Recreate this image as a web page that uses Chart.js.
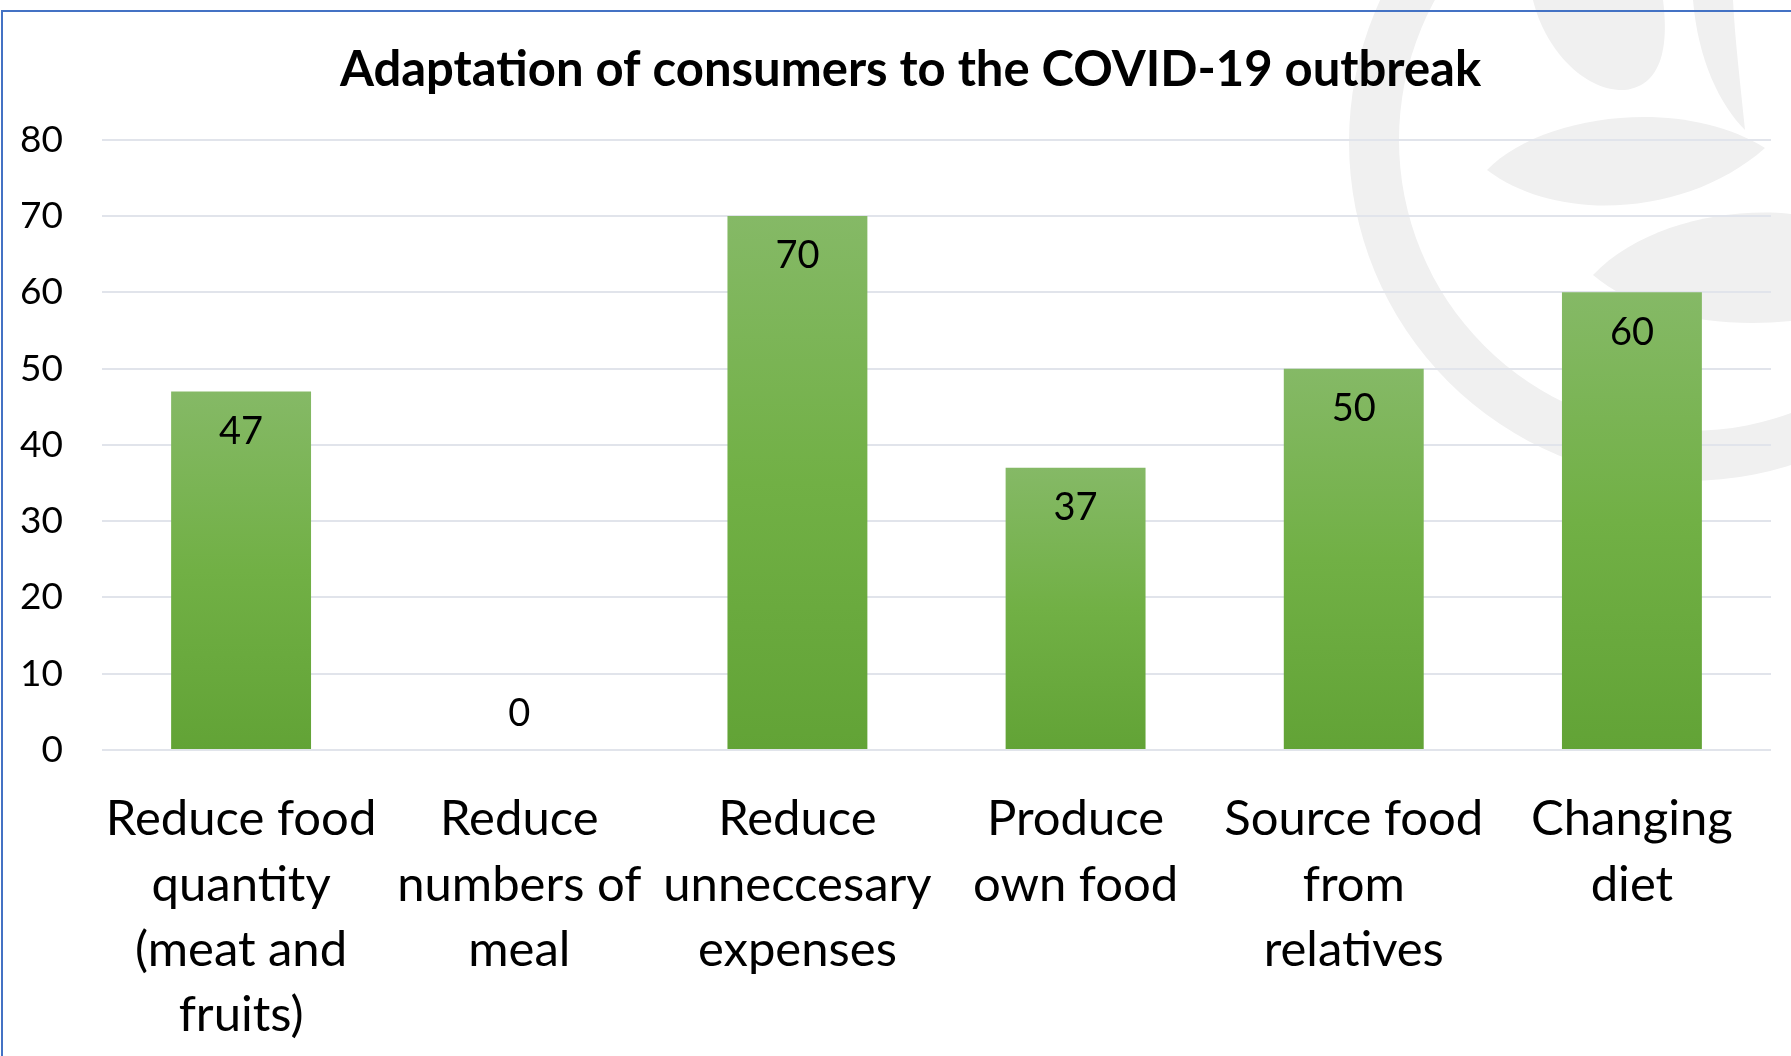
<!DOCTYPE html>
<html>
<head>
<meta charset="utf-8">
<title>Adaptation of consumers to the COVID-19 outbreak</title>
<script src="https://cdn.jsdelivr.net/npm/chart.js@4.4.1/dist/chart.umd.min.js"></script>
<style>
    html, body { margin: 0; padding: 0; background: #ffffff; }
    canvas { display: block; }
</style>
</head>
<body>
<canvas id="adaptChart" width="1791" height="1056"></canvas>
<script>
// Survey answers, one bar per adaptation
const categories = [
    ['Reduce food', 'quantity', '(meat and', 'fruits)'],
    ['Reduce', 'numbers of', 'meal'],
    ['Reduce', 'unneccesary', 'expenses'],
    ['Produce', 'own food'],
    ['Source food', 'from', 'relatives'],
    ['Changing', 'diet']
];
const shareValues = [47, 0, 70, 37, 50, 60];

const yMin = 0;
const yMax = 80;
const yStep = 10;

const FONT = 'Lato, "Open Sans", sans-serif';

// Faint logo in the top right corner, behind everything
const watermark = {
    id: 'watermark',
    beforeDraw(chart) {
        const c = chart.ctx;
        c.save();
        c.fillStyle = '#f0f0f0';

        // ring
        c.beginPath();
        c.arc(1688, 142, 339, 0, Math.PI * 2);
        c.arc(1690, 140, 291, 0, Math.PI * 2, true);
        c.fill();

        // upper leaf
        c.beginPath();
        c.moveTo(1487, 170);
        c.bezierCurveTo(1540, 115, 1680, 95, 1765, 148);
        c.bezierCurveTo(1690, 215, 1560, 225, 1487, 170);
        c.fill();

        // lower leaf
        c.beginPath();
        c.moveTo(1593, 275);
        c.bezierCurveTo(1640, 225, 1730, 205, 1800, 215);
        c.lineTo(1800, 320);
        c.bezierCurveTo(1720, 330, 1640, 315, 1593, 275);
        c.fill();

        // tip of a leaf cut by the top edge
        c.beginPath();
        c.moveTo(1533, 0);
        c.bezierCurveTo(1545, 50, 1585, 92, 1625, 90);
        c.bezierCurveTo(1665, 85, 1668, 40, 1663, 0);
        c.closePath();
        c.fill();

        // stalk
        c.beginPath();
        c.moveTo(1693, 0);
        c.bezierCurveTo(1698, 60, 1720, 105, 1745, 130);
        c.bezierCurveTo(1740, 80, 1735, 40, 1733, 0);
        c.closePath();
        c.fill();

        c.restore();
    }
};

// Title sits a little right of the canvas centre
const titleNudge = {
    id: 'titleNudge',
    afterLayout(chart) {
        if (chart.titleBlock) {
            chart.titleBlock.left += 17;
            chart.titleBlock.right += 17;
        }
    }
};

// Value labels: inside the top of each bar, above the axis for zero
const valueLabels = {
    id: 'valueLabels',
    afterDatasetsDraw(chart) {
        const c = chart.ctx;
        const meta = chart.getDatasetMeta(0);
        c.save();
        c.font = '38px ' + FONT;
        c.fillStyle = '#000000';
        c.textAlign = 'center';
        c.textBaseline = 'middle';
        meta.data.forEach((bar, i) => {
            const v = chart.data.datasets[0].data[i];
            const y = v > 0 ? bar.y + 40 : bar.base - 36;
            c.fillText(String(v), bar.x, y);
        });
        c.restore();
    }
};

// Thin blue frame along the top and left edges
const frame = {
    id: 'frame',
    afterDraw(chart) {
        const c = chart.ctx;
        c.save();
        c.strokeStyle = '#4472c4';
        c.lineWidth = 2;
        c.beginPath();
        c.moveTo(2, chart.height);
        c.lineTo(2, 11);
        c.lineTo(chart.width, 11);
        c.stroke();
        c.restore();
    }
};

function barFill(ctx) {
    const chart = ctx.chart;
    if (!chart.chartArea || ctx.type !== 'data') return '#70ad47';
    const y = chart.scales.y;
    const top = y.getPixelForValue(ctx.raw);
    const base = y.getPixelForValue(0);
    if (Math.abs(base - top) < 1) return '#70ad47';
    const g = chart.ctx.createLinearGradient(0, top, 0, base);
    g.addColorStop(0, '#85b966');
    g.addColorStop(0.5, '#71b045');
    g.addColorStop(1, '#62a336');
    return g;
}

new Chart(document.getElementById('adaptChart'), {
    type: 'bar',
    data: {
        labels: categories,
        datasets: [{
            data: shareValues,
            backgroundColor: barFill,
            borderWidth: 0,
            barPercentage: 0.503,
            categoryPercentage: 1
        }]
    },
    options: {
        responsive: false,
        animation: false,
        layout: {
            padding: { left: 16, right: 20, top: 0, bottom: 0 }
        },
        plugins: {
            legend: { display: false },
            tooltip: { enabled: false },
            title: {
                display: true,
                text: 'Adaptation of consumers to the COVID-19 outbreak',
                color: '#000000',
                font: { family: FONT, size: 49, weight: 'bold', lineHeight: 1.2 },
                padding: { top: 41, bottom: 40 }
            }
        },
        scales: {
            x: {
                grid: { display: false, drawTicks: false },
                border: { display: false },
                ticks: {
                    color: '#000000',
                    font: { family: FONT, size: 49, lineHeight: 1.33 },
                    padding: 37,
                    maxRotation: 0,
                    autoSkip: false
                },
                afterFit(scale) {
                    scale.height = 306;
                }
            },
            y: {
                min: yMin,
                max: yMax,
                grid: { color: '#e1e4eb', lineWidth: 2, drawTicks: false },
                border: { display: false },
                ticks: {
                    stepSize: yStep,
                    color: '#000000',
                    font: { family: FONT, size: 37 },
                    padding: 39
                },
                afterFit(scale) {
                    scale.width = 86;
                }
            }
        }
    },
    plugins: [watermark, titleNudge, valueLabels, frame]
});
</script>
</body>
</html>
